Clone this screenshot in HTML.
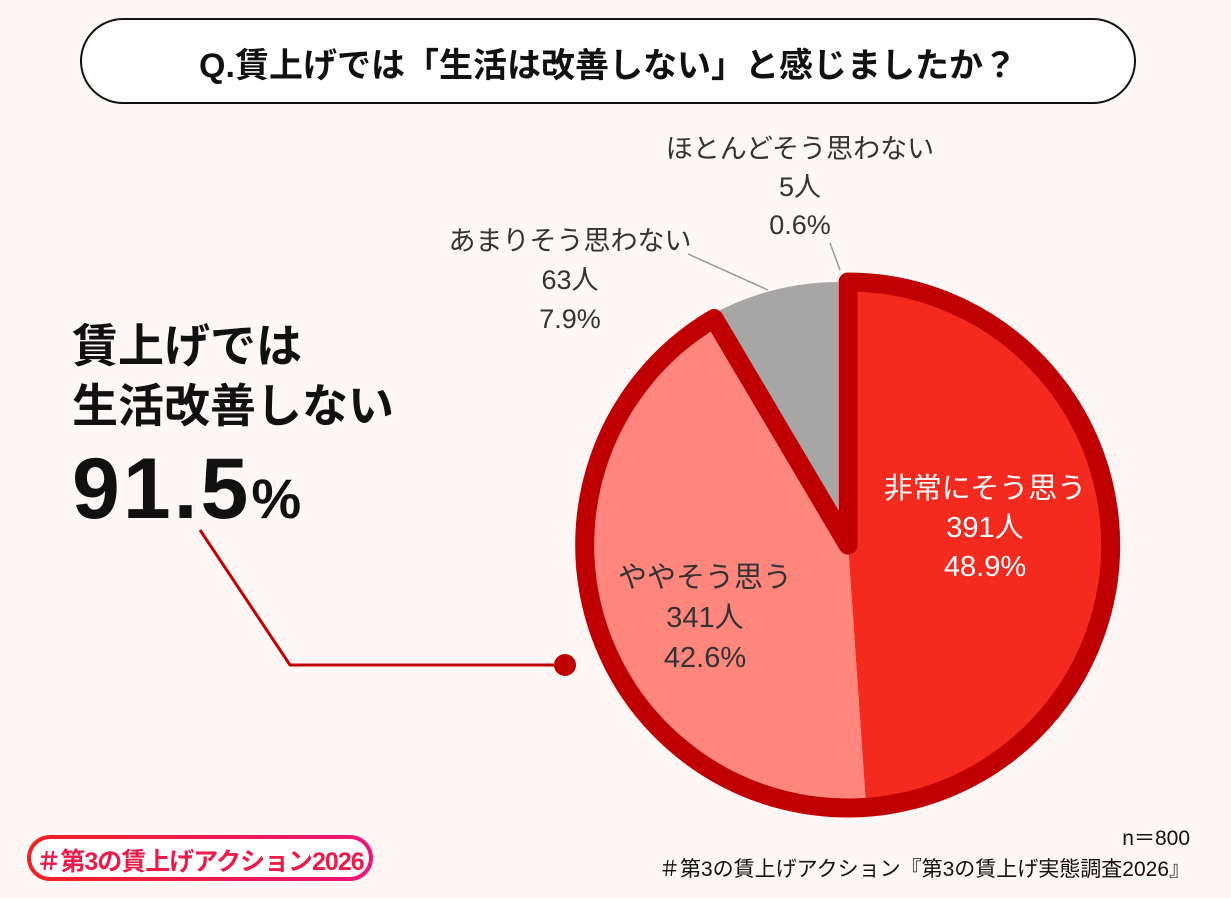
<!DOCTYPE html>
<html><head><meta charset="utf-8"><style>
body{margin:0;width:1231px;height:898px;background:#fff6f6;overflow:hidden;position:relative;font-family:"Liberation Sans","Noto Sans CJK JP",sans-serif;color:#222}
.t{position:absolute;white-space:nowrap}
</style></head><body>
<div style="position:absolute;left:80px;top:18px;width:1056px;height:86px;border:2.5px solid #111;border-radius:44px;background:#fff;box-sizing:border-box"></div>
<div class="t" style="left:80px;width:1056px;top:38px;text-align:center;font-size:34px;font-weight:bold;color:#111">Q.賃上げでは「生活は改善しない」と感じましたか？</div>
<div class="t" style="left:72px;top:316px;font-size:46px;font-weight:bold;line-height:60px;color:#111">賃上げでは<br>生活改善しない</div>
<div class="t" style="left:72px;top:440px;font-size:86px;font-weight:bold;color:#111;letter-spacing:3px">91.5<span style="font-size:56px;letter-spacing:0">%</span></div>
<svg width="1231" height="898" style="position:absolute;left:0;top:0">
<polyline points="200,530 290,665 565,665" fill="none" stroke="#c00000" stroke-width="3"/>
<circle cx="565" cy="665" r="11" fill="#c00000"/>
<line x1="688" y1="254" x2="768" y2="290" stroke="#999" stroke-width="1.5"/>
<line x1="830" y1="243" x2="840" y2="270" stroke="#999" stroke-width="1.5"/>
<path d="M838,545 L704.5,318.7 A263,263 0 0 1 838,282 Z" fill="#a6a6a6"/>
<path d="M848,545 L848,282 A263,263 0 0 1 866.1,807.4 Z" fill="#f52a1e"/>
<path d="M848,545 L866.1,807.4 A263,263 0 0 1 714,318.5 Z" fill="#ff867c"/>
<path d="M848,545 L848,282 A263,263 0 1 1 714,318.5 Z" fill="none" stroke="#c00000" stroke-width="19" stroke-linejoin="round"/>
</svg>
<div class="t" style="left:650px;width:300px;top:130px;text-align:center;font-size:27px;line-height:38px;color:#333">ほとんどそう思わない<br>5人<br>0.6%</div>
<div class="t" style="left:420px;width:300px;top:222px;text-align:center;font-size:27px;line-height:39px;color:#333">あまりそう思わない<br>63人<br>7.9%</div>
<div class="t" style="left:835px;width:300px;top:470px;text-align:center;font-size:29px;line-height:39px;color:#fff">非常にそう思う<br>391人<br>48.9%</div>
<div class="t" style="left:555px;width:300px;top:558px;text-align:center;font-size:29px;line-height:40px;color:#333">ややそう思う<br>341人<br>42.6%</div>
<div class="t" style="right:41px;top:822px;font-size:21px;color:#111">n＝800</div>
<div class="t" style="right:41px;top:853px;font-size:21px;color:#111">＃第3の賃上げアクション『第3の賃上げ実態調査2026』</div>
<div style="position:absolute;left:27px;top:835px;width:346px;height:46px;border-radius:23px;background:linear-gradient(90deg,#f32020,#f0167a);padding:4px;box-sizing:border-box"><div style="width:100%;height:100%;border-radius:19px;background:#fff"></div></div>
<div class="t" style="left:27px;width:346px;top:842px;text-align:center;font-size:25px;font-weight:bold;color:#ee1a4a;letter-spacing:-1px">＃第3の賃上げアクション2026</div>
</body></html>
